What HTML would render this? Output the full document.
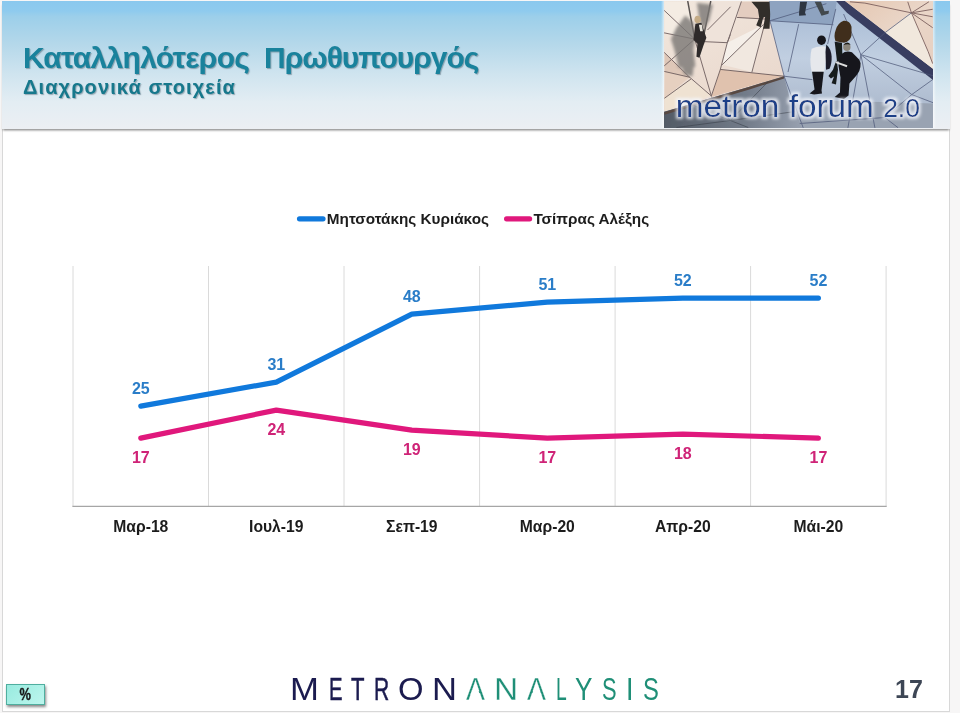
<!DOCTYPE html>
<html lang="el">
<head>
<meta charset="utf-8">
<title>Καταλληλότερος Πρωθυπουργός</title>
<style>
html,body{margin:0;padding:0;}
body{width:960px;height:713px;overflow:hidden;background:#f7f6f6;font-family:"Liberation Sans",sans-serif;position:relative;}
#frame{position:absolute;left:2px;top:1px;width:948px;height:711px;box-sizing:border-box;border:1px solid #d8d8d8;background:#fff;}
#hdr{position:absolute;left:2.4px;top:1.3px;width:947.2px;height:127.9px;
 background:linear-gradient(to bottom,#8ac8ee 0%,#8fcbee 8%,#9ccfea 12%,#b5d8ea 34%,#cfe4ef 57%,#e3edf3 79%,#eceff3 100%);
 box-shadow:0 2.6px 2.2px -1px rgba(0,0,0,.48);}
#title .w1{letter-spacing:-.7px;}
#title .w2{letter-spacing:-1px;}
#title{position:absolute;left:23px;top:40.6px;font-size:30px;font-weight:bold;color:#19829c;word-spacing:7px;white-space:nowrap;text-shadow:1px 1px 1px rgba(80,105,120,.55);letter-spacing:-.5px;}
#sub{position:absolute;left:23px;top:76px;font-size:20px;font-weight:bold;color:#16788c;white-space:nowrap;letter-spacing:1.1px;text-shadow:1px 1px 1px rgba(80,105,120,.5);}
#photo{position:absolute;left:663.8px;top:1.3px;width:269.2px;height:126.7px;overflow:hidden;}
#pl,#pr{position:absolute;top:1.3px;height:126.7px;width:2.6px;}
#pl{left:661.2px;background:linear-gradient(to right,rgba(255,255,255,0),rgba(255,255,255,.6));}
#pr{left:933px;background:linear-gradient(to left,rgba(255,255,255,0),rgba(255,255,255,.6));}
#pct{position:absolute;left:6px;top:684px;width:39px;height:20.5px;box-sizing:border-box;border:1px solid #4fae9f;background:linear-gradient(135deg,#98ebdf,#bdf6ee);box-shadow:.5px 2px 2.5px rgba(60,60,60,.6);font-size:16.5px;font-weight:bold;color:#151515;text-align:center;line-height:18.5px;text-indent:0;}
#pct span{display:inline-block;transform:scaleX(.78);-webkit-text-stroke:.35px #151515;}
#pg{position:absolute;left:895px;top:675px;font-size:25px;font-weight:bold;color:#3d4655;white-space:nowrap;}
#logo{position:absolute;left:0;width:960px;height:31px;font-size:31px;line-height:31px;color:#1b1b4f;}
#logo span{position:absolute;top:0;transform-origin:0 0;display:block;white-space:nowrap;}
#logo span.n{-webkit-text-stroke:.5px #1b1b4f;}
#logo span.g{color:#1f8f77;-webkit-text-stroke:.3px #fff;}
#logo span.g.n{-webkit-text-stroke:0;}
#lcov{position:absolute;left:0;top:0;}
#chart{position:absolute;left:0;top:0;}
</style>
</head>
<body>
<div id="frame"></div>
<div id="hdr"></div>
<div id="title"><span class="w1">Καταλληλότερος</span> <span class="w2">Πρωθυπουργός</span></div>
<div id="pl"></div><div id="pr"></div>
<div id="sub">Διαχρονικά στοιχεία</div>
<svg id="photo" width="270" height="127" viewBox="663.5 1.2 270 127" preserveAspectRatio="none">
 <defs>
  <filter id="b0" x="-5%" y="-5%" width="110%" height="110%"><feGaussianBlur stdDeviation="0.4"/></filter>
  <filter id="b1" x="-20%" y="-20%" width="140%" height="140%"><feGaussianBlur stdDeviation="0.7"/></filter>
  <filter id="glow" x="-5%" y="-40%" width="110%" height="180%"><feMorphology in="SourceAlpha" operator="dilate" radius="2.4" result="d"/><feGaussianBlur in="d" stdDeviation="1.6" result="b"/><feFlood flood-color="#f4f8ff" flood-opacity=".8"/><feComposite in2="b" operator="in" result="g"/><feMerge><feMergeNode in="g"/><feMergeNode in="SourceGraphic"/></feMerge></filter>
  <filter id="b3" x="-10%" y="-40%" width="120%" height="180%"><feGaussianBlur stdDeviation="1.8"/></filter>
  <linearGradient id="pk" x1="0" y1="0" x2="1" y2="1"><stop offset="0" stop-color="#f2e8de"/><stop offset=".5" stop-color="#ead9ce"/><stop offset="1" stop-color="#dcbcaa"/></linearGradient>
  <linearGradient id="bl" x1="0" y1="0" x2="0" y2="1"><stop offset="0" stop-color="#a4b8d3"/><stop offset=".45" stop-color="#c1cfe1"/><stop offset="1" stop-color="#a4b1c5"/></linearGradient>
  <linearGradient id="dk" x1="0" y1="0" x2="1" y2="0"><stop offset="0" stop-color="#525a65"/><stop offset=".6" stop-color="#737c8a"/><stop offset="1" stop-color="#98a1b0"/></linearGradient>
  <linearGradient id="wg" x1="0" y1="0" x2="1" y2="1"><stop offset="0" stop-color="#e4c6b0"/><stop offset=".5" stop-color="#ead6c8"/><stop offset="1" stop-color="#e6cfc0"/></linearGradient>
 </defs>
 <g filter="url(#b1)">
  <rect x="660" y="-2" width="280" height="134" fill="url(#pk)"/>
  <!-- tile tints on the pink side -->
  <polygon points="664,2 687.4,2 694.3,39.4 664,33.2" fill="#f4ece3"/>
  <polygon points="710.3,2 741,2 727,43 705,42 703.8,33.5" fill="#efe3da"/>
  <polygon points="727,43 763,25 722,65" fill="#f5efe9"/>
  <polygon points="763,25 760,41.7 751.7,72.4 722,65" fill="#f1e8e0"/>
  <polygon points="741,2 769,2 769.75,20 737,17.7" fill="#e4cdc0"/>
  <polygon points="664,53 689.2,77.6 664.2,71.9" fill="#dec7b8"/>
  <polygon points="664.2,71.9 689.2,77.6 664.2,98.5" fill="#e6d0c0"/>
  <polygon points="690.2,79.7 711,96.4 664,112 664.2,98.5" fill="#efe2d2"/>
  <polygon points="720,69.8 784,76.6 711,97.5" fill="#e0c2ae"/>
  <!-- blue-grey pavement -->
  <polygon points="769,0 843,0 934,69.5 934,130 662,130 662,112.8 750,87 784,76.6 769.75,21" fill="url(#bl)"/>
  <polygon points="769,0 837,0 833,25 769.75,21" fill="#8ea3c0"/>
  <polygon points="662,112.8 750,87 784,76.6 790,100 803,130 662,130" fill="url(#dk)"/>
  <polygon points="790,100 934,104 934,130 803,130" fill="#99a3b2"/>
  <!-- top-right wedge with its shadow -->
  <polygon points="835,0 843.5,0 934,69.5 934,81 847,13" fill="#383e60"/>
  <polygon points="843.5,0 934,0 934,69.5" fill="url(#wg)"/>
  <polygon points="885.4,32.8 911.7,13.1 928.5,52 934,66 934,69.5" fill="#f1e8dd"/>
  <polygon points="664,112.5 750,86.8 784,76.6 784,78.8 750,89.6 664,115.2" fill="#594842"/>
 </g>
 <!-- tile joints -->
 <g stroke="#5a4a4c" stroke-width="1" fill="none" stroke-linecap="round" opacity=".78" filter="url(#b0)">
  <path d="M664,10.9L694.3,39.4M664,33.2L694.3,39.4M730,7.3L707.4,30M705,42L727,43L730,35M741,2L727,43L720,69.8L711,96.4M694.3,39.4L711,96.4M694.3,39.4L664,66M664,53L689.2,77.6L711,96.4M664.2,71.9L689.2,77.6M664.2,98.5L690.2,79.7M720,69.8L784,76.6M737,17.7L769,19.5M763,25L722,65M763.5,28L751.7,72.4"/>
  <path d="M687.4,1.8L694.3,39.4M710.3,1.8L703.8,33.5L696,40" stroke="#2e2a2a" stroke-width="1.5"/>
 </g>
 <g stroke="#4c5676" stroke-width="1" fill="none" stroke-linecap="round" opacity=".72" filter="url(#b0)">
  <path d="M769.75,21L784,76.6L803,128M769.75,21L833,25M769.75,21L826,4M798.5,24.8L788,72M835.7,9.5L827.7,44M784,76.6L812,80M843.8,14.6L861,55M861,55L933,76M861,55L885.4,32.8L911.7,13.1M861,55L875,128M861,55L848,128M861,55L912,95L933,80M912,95L933,103M912,95L885,118L800,124M885,118L898,128"/>
 </g>
 <g stroke="#363c46" stroke-width="1" fill="none" opacity=".55" filter="url(#b0)"><path d="M730,121L676,128M730,121L748,128M730,121L711,97.5M730,121L690,104.5M730,121L768,82M730,121L795,112"/></g>
 <g stroke="#66494a" stroke-width="1" fill="none" opacity=".75" filter="url(#b0)">
  <path d="M911.7,13.1L908,2M911.7,13.1L929.2,2M911.7,13.1L933,9.5M911.7,13.1L933,17M911.7,13.1L933,28M911.7,13.1L928.5,52L933,64M911.7,13.1L865,3.3L850,2"/>
 </g>
 <!-- people & shadows -->
 <g filter="url(#b3)" fill="#7a7775" opacity=".8">
  <polygon points="696.5,3 712.5,5 709,20 703,31 699,20"/>
  <polygon points="684.8,15.8 693,23 695,38 693,50 695,67 678,68 674.5,52 670.5,39.4 676,28"/>
  <polygon points="679,62 694,62 692,77 684,75"/>
 </g>
 <g filter="url(#b1)">
  <ellipse cx="697.2" cy="19.7" rx="3.2" ry="3.8" fill="#c4ab86"/>
  <polygon points="695,24 701,23 706,38 703,46 699,58 696,57 697,44 693,40" fill="#2e2a2a"/>
  <polygon points="698.5,25 701.5,25 702.5,31.5 699.8,31.5" fill="#e8e4dc"/>
  <!-- top legs left -->
  <polygon points="751.2,2 769.4,2 770,14.6 769.4,29 762.8,29 765,17 763,18 760.5,27.5 756,25.5 759,18 757.7,9.5" fill="#302d2c"/>
  <!-- top legs centre -->
  <polygon points="800,2 807,2 805,13 806,15.5 799,16 799,13" fill="#2d3540"/>
  <polygon points="814.6,2 821,2 824.5,11.5 829,11 828.5,14 821.5,16" fill="#43484e"/>
  <!-- white-shirt person -->
  <path d="M811.6,49 Q818,45.5 825.3,46.8 L826.5,58 L824.2,72 L811.6,72 Q809,60 811.6,49Z" fill="#e6e8ec"/>
  <ellipse cx="821.5" cy="40.5" rx="4.4" ry="4.8" fill="#15161a"/>
  <path d="M826.3,44.7 Q831,49 831.6,56.3 Q832,64 829.5,69 L826,70 L825.5,52Z" fill="#1b1e2c"/>
  <path d="M812,72 L823.7,72 L821.5,91 L822,94 L814,95 L809.5,94 L814.5,90Z" fill="#16171b"/>
  <!-- brown-haired person -->
  <path d="M843.8,21 Q850,20.5 851.6,27 L851.5,36 Q850,42 844,43 L835.5,41.5 Q833.5,36 835.8,30 Q838,23 843.8,21Z" fill="#3f2e1a"/>
  <path d="M834.7,42 L842,43 L842.5,57 L840,62 L836,61.6 L833,70 L828.4,76.3 L831,79 L834,77 L831.6,83.7 L836,85 L838,70Z" fill="#191a1e"/>
  <!-- person in black -->
  <path d="M842,54 Q846,50.5 852,52.5 L859,59.5 Q861.5,63 860.5,67 Q860,72 856.5,76 L849.5,84 L848.6,96 L844,99.5 L834.7,97.4 L840,93 L840.5,78 L838.5,66 Q839,58 842,54Z" fill="#16171b"/>
  <ellipse cx="846.9" cy="47.3" rx="3.7" ry="4.1" fill="#8b867c"/>
  <path d="M843.2,45.5 Q847,40.5 850.8,45 Q847,43.8 843.2,45.5Z" fill="#1c1a18"/>
  <path d="M835.8,61.6 L847.4,65.6 L846.8,67.6 L835.4,63.4Z" fill="#dcdcdc"/>
 </g>
 <!-- wordmark -->
 <text x="675.2" y="117.4" textLength="245" lengthAdjust="spacingAndGlyphs" font-family="'Liberation Sans',sans-serif" font-size="31.5" fill="#1e3f88" filter="url(#glow)">metron forum <tspan font-size="25">2.0</tspan></text>
</svg>
<svg id="chart" width="960" height="713" viewBox="0 0 960 713" font-family="'Liberation Sans',sans-serif" font-weight="bold">
  <path d="M73.0 266V506.4M208.5 266V506.4M344.0 266V506.4M479.6 266V506.4M615.1 266V506.4M750.6 266V506.4M886.1 266V506.4" stroke="#dadada" stroke-width="1" fill="none"/>
  <path d="M72.4 506.4H886.7" stroke="#a6a6a6" stroke-width="1.2" fill="none"/>
  <polyline points="140.8,406.1 276.3,382.1 411.8,314.1 547.3,302.1 682.8,298.1 818.4,298.1" fill="none" stroke="#1079dc" stroke-width="5.2" stroke-linecap="round" stroke-linejoin="round"/>
  <polyline points="140.8,438.1 276.3,410.1 411.8,430.1 547.3,438.1 682.8,434.1 818.4,438.1" fill="none" stroke="#e0187c" stroke-width="5.2" stroke-linecap="round" stroke-linejoin="round"/>
  <path d="M299.5 218.8H323" stroke="#1079dc" stroke-width="5.2" stroke-linecap="round"/>
  <text x="326.8" y="224.4" font-size="15.3" fill="#1c1c1c">Μητσοτάκης Κυριάκος</text>
  <path d="M506.6 218.8H529.6" stroke="#e0187c" stroke-width="5.2" stroke-linecap="round"/>
  <text x="533.4" y="224.4" font-size="15.3" fill="#1c1c1c">Τσίπρας Αλέξης</text>
  <g font-size="16" fill="#2a7dc8" text-anchor="middle"><text x="140.8" y="394.4">25</text><text x="276.3" y="370.4">31</text><text x="411.8" y="302.4">48</text><text x="547.3" y="290.4">51</text><text x="682.8" y="286.4">52</text><text x="818.4" y="286.4">52</text></g>
  <g font-size="16" fill="#cf2377" text-anchor="middle"><text x="140.8" y="463.1">17</text><text x="276.3" y="435.1">24</text><text x="411.8" y="455.1">19</text><text x="547.3" y="463.1">17</text><text x="682.8" y="459.1">18</text><text x="818.4" y="463.1">17</text></g>
  <g font-size="15.7" fill="#1c1c1c" text-anchor="middle"><text x="140.8" y="531.8">Μαρ-18</text><text x="276.3" y="531.8">Ιουλ-19</text><text x="411.8" y="531.8">Σεπ-19</text><text x="547.3" y="531.8">Μαρ-20</text><text x="682.8" y="531.8">Απρ-20</text><text x="818.4" y="531.8">Μάι-20</text></g>
 </svg>
<div id="pct"><span>%</span></div>
<div id="logo" style="top:674.30px"><span style="left:290.26px;transform:scaleX(1.119)">M</span><span class="n" style="left:328.64px;transform:scaleX(0.655)">E</span><span class="n" style="left:351.20px;transform:scaleX(0.713)">T</span><span class="n" style="left:373.97px;transform:scaleX(0.679)">R</span><span style="left:398.15px;transform:scaleX(1.059)">O</span><span style="left:432.27px;transform:scaleX(1.115)">N</span> <span class="g" style="left:465.64px;transform:scaleX(0.915)">A</span><span class="g" style="left:493.75px;transform:scaleX(1.080)">N</span><span class="g" style="left:527.14px;transform:scaleX(0.915)">A</span><span class="g n" style="left:556.22px;transform:scaleX(0.622)">L</span><span class="g n" style="left:575.03px;transform:scaleX(0.844)">Y</span><span class="g n" style="left:602.01px;transform:scaleX(0.706)">S</span><span class="g n" style="left:626.33px;transform:scaleX(0.865)">I</span><span class="g n" style="left:643.32px;transform:scaleX(0.768)">S</span></div>
 <svg id="lcov" width="960" height="713" viewBox="0 0 960 713"><g fill="#fff"><polygon points="470.41,694.55 479.85,694.55 479.57,693.76 478.78,691.51 478.37,690.31 471.90,690.31 471.49,691.51 470.68,693.76"/><polygon points="531.91,694.55 541.35,694.55 541.07,693.76 540.28,691.51 539.87,690.31 533.40,690.31 532.99,691.51 532.18,693.76"/></g></svg>
<div id="pg">17</div>
</body>
</html>
